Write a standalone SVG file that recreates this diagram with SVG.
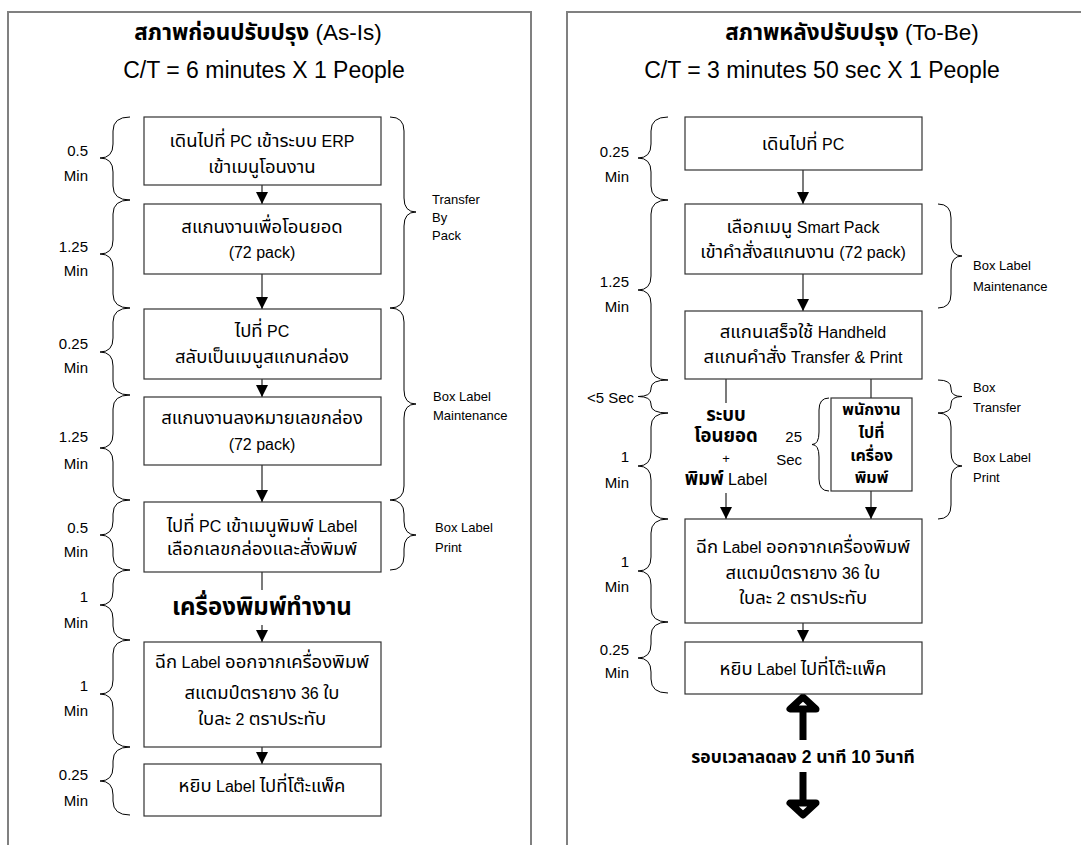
<svg xmlns="http://www.w3.org/2000/svg" width="1081" height="845" viewBox="0 0 1081 845">
<defs>
<marker id="ah" viewBox="0 0 12 12" refX="12" refY="6" markerWidth="12" markerHeight="12" markerUnits="userSpaceOnUse" orient="auto">
<path d="M0,0 L12,6 L0,12 z" fill="#000"/>
</marker>
<style>
text{font-family:"Liberation Sans","Noto Sans Thai","Noto Sans",sans-serif;fill:#000}
.frame{fill:none;stroke:#808080;stroke-width:2}
.box{fill:#fff;stroke:#333;stroke-width:1.2}
.bt{font-size:16px;text-anchor:middle}
.th{font-size:18.5px}
.ttl{font-size:22.5px;text-anchor:middle}
.sub{font-size:23px;text-anchor:middle}
.lbl{font-size:15px;text-anchor:end}
.side{font-size:13px}
.b{font-weight:bold}
.brace{fill:none;stroke:#000;stroke-width:1}
.flow{stroke:#222;stroke-width:1.2;fill:none}
.flow.h{marker-end:url(#ah)}
.big{stroke:#000;stroke-width:7;fill:#fff;stroke-linejoin:round}
</style>
</defs>
<rect width="1081" height="845" fill="#fff"/>

<!-- panel frames (bottom edges run off the page) -->
<g id="frames">
<path class="frame" d="M8,860 V12 H531 V860"/>
<path class="frame" d="M567,860 V12 H1090"/>
</g>

<!-- headings -->
<g id="head-asis">
<text class="ttl" x="258" y="40"><tspan class="b">สภาพก่อนปรับปรุง</tspan> (As-Is)</text>
<text class="sub" x="264" y="78">C/T = 6 minutes X 1 People</text>
</g>
<g id="head-tobe">
<text class="ttl" x="852" y="40"><tspan class="b">สภาพหลังปรับปรุง</tspan> (To-Be)</text>
<text class="sub" x="822" y="78">C/T = 3 minutes 50 sec X 1 People</text>
</g>

<!-- connectors -->
<g id="connectors">
<path class="flow h" d="M262,185 V204"/>
<path class="flow h" d="M262,274 V309"/>
<path class="flow h" d="M262,379 V397"/>
<path class="flow h" d="M262,465 V502"/>
<path class="flow" d="M262,572 V590"/>
<path class="flow h" d="M262,625 V642"/>
<path class="flow h" d="M262,747 V764"/>

<path class="flow h" d="M803,170 V204"/>
<path class="flow h" d="M803,274 V311"/>
<path class="flow" d="M726,379 V403"/>
<path class="flow h" d="M726,493 V519"/>
<path class="flow" d="M871,379 V398"/>
<path class="flow h" d="M871,491 V519"/>
<path class="flow h" d="M803,623 V642"/>

<!-- cycle-time reduction arrows -->
<path class="big" d="M803,712 V740"/>
<path class="big" d="M803,697 L790,709 L816,709 Z"/>
<path class="big" d="M803,772 V800"/>
<path class="big" d="M803,815 L790,803 L816,803 Z"/>
</g>

<!-- As-Is steps -->
<g id="asis-1"><rect class="box" x="144" y="117" width="237" height="68"/>
<text class="bt" x="262" y="147"><tspan class="th">เดินไปที่</tspan> PC <tspan class="th">เข้าระบบ</tspan> ERP</text>
<text class="bt th" x="262" y="173">เข้าเมนูโอนงาน</text></g>
<g id="asis-2"><rect class="box" x="144" y="204" width="237" height="70"/>
<text class="bt th" x="262" y="233">สแกนงานเพื่อโอนยอด</text>
<text class="bt" x="262" y="258">(72 pack)</text></g>
<g id="asis-3"><rect class="box" x="144" y="309" width="237" height="70"/>
<text class="bt" x="262" y="337"><tspan class="th">ไปที่</tspan> PC</text>
<text class="bt th" x="262" y="363">สลับเป็นเมนูสแกนกล่อง</text></g>
<g id="asis-4"><rect class="box" x="144" y="397" width="237" height="68"/>
<text class="bt th" x="262" y="424">สแกนงานลงหมายเลขกล่อง</text>
<text class="bt" x="262" y="450">(72 pack)</text></g>
<g id="asis-5"><rect class="box" x="144" y="502" width="237" height="70"/>
<text class="bt" x="262" y="532"><tspan class="th">ไปที่</tspan> PC <tspan class="th">เข้าเมนูพิมพ์</tspan> Label</text>
<text class="bt th" x="262" y="555">เลือกเลขกล่องและสั่งพิมพ์</text></g>
<g id="asis-printer"><text class="b" x="262" y="615" font-size="24" text-anchor="middle">เครื่องพิมพ์ทำงาน</text></g>
<g id="asis-6"><rect class="box" x="144" y="642" width="237" height="105"/>
<text class="bt" x="262" y="668"><tspan class="th">ฉีก</tspan> Label <tspan class="th">ออกจากเครื่องพิมพ์</tspan></text>
<text class="bt" x="262" y="699"><tspan class="th">สแตมป์ตรายาง</tspan> 36 <tspan class="th">ใบ</tspan></text>
<text class="bt" x="262" y="725"><tspan class="th">ใบละ</tspan> 2 <tspan class="th">ตราประทับ</tspan></text></g>
<g id="asis-7"><rect class="box" x="144" y="764" width="237" height="52"/>
<text class="bt" x="262" y="792"><tspan class="th">หยิบ</tspan> Label <tspan class="th">ไปที่โต๊ะแพ็ค</tspan></text></g>

<!-- As-Is time braces -->
<g id="asis-times">
<path class="brace" d="M130,117 Q113,117 113,131 L113,144 Q113,158 100,158 Q113,158 113,172 L113,186 Q113,200 130,200"/>
<text class="lbl" x="88" y="156">0.5</text><text class="lbl" x="88" y="181">Min</text>
<path class="brace" d="M130,200 Q113,200 113,214 L113,240 Q113,254 100,254 Q113,254 113,268 L113,294 Q113,308 130,308"/>
<text class="lbl" x="88" y="252">1.25</text><text class="lbl" x="88" y="276">Min</text>
<path class="brace" d="M130,308 Q113,308 113,322 L113,338 Q113,352 100,352 Q113,352 113,366 L113,381 Q113,395 130,395"/>
<text class="lbl" x="88" y="349">0.25</text><text class="lbl" x="88" y="373">Min</text>
<path class="brace" d="M130,395 Q113,395 113,409 L113,434 Q113,448 100,448 Q113,448 113,462 L113,486 Q113,500 130,500"/>
<text class="lbl" x="88" y="442">1.25</text><text class="lbl" x="88" y="469">Min</text>
<path class="brace" d="M130,500 Q113,500 113,514 L113,521 Q113,535 100,535 Q113,535 113,549 L113,556 Q113,570 130,570"/>
<text class="lbl" x="88" y="533">0.5</text><text class="lbl" x="88" y="557">Min</text>
<path class="brace" d="M130,570 Q113,570 113,584 L113,591 Q113,605 100,605 Q113,605 113,619 L113,626 Q113,640 130,640"/>
<text class="lbl" x="88" y="602">1</text><text class="lbl" x="88" y="628">Min</text>
<path class="brace" d="M130,640 Q113,640 113,654 L113,680 Q113,694 100,694 Q113,694 113,708 L113,733 Q113,747 130,747"/>
<text class="lbl" x="88" y="691">1</text><text class="lbl" x="88" y="716">Min</text>
<path class="brace" d="M130,747 Q113,747 113,761 L113,767 Q113,781 100,781 Q113,781 113,795 L113,801 Q113,815 130,815"/>
<text class="lbl" x="88" y="780">0.25</text><text class="lbl" x="88" y="806">Min</text>
</g>

<!-- As-Is transaction braces -->
<g id="asis-transactions">
<path class="brace" d="M390,117 Q404,117 404,131 L404,198 Q404,212 416,212 Q404,212 404,226 L404,294 Q404,308 390,308"/>
<text class="side" x="432" y="204">Transfer</text><text class="side" x="432" y="222">By</text><text class="side" x="432" y="240">Pack</text>
<path class="brace" d="M390,308 Q404,308 404,322 L404,390 Q404,404 416,404 Q404,404 404,418 L404,486 Q404,500 390,500"/>
<text class="side" x="433" y="401">Box Label</text><text class="side" x="433" y="420">Maintenance</text>
<path class="brace" d="M390,500 Q404,500 404,514 L404,521 Q404,535 416,535 Q404,535 404,549 L404,556 Q404,570 390,570"/>
<text class="side" x="435" y="532">Box Label</text><text class="side" x="435" y="552">Print</text>
</g>

<!-- To-Be steps -->
<g id="tobe-1"><rect class="box" x="685" y="117" width="237" height="53"/>
<text class="bt" x="803" y="150"><tspan class="th">เดินไปที่</tspan> PC</text></g>
<g id="tobe-2"><rect class="box" x="685" y="204" width="237" height="70"/>
<text class="bt" x="803" y="233"><tspan class="th">เลือกเมนู</tspan> Smart Pack</text>
<text class="bt" x="803" y="258"><tspan class="th">เข้าคำสั่งสแกนงาน</tspan> (72 pack)</text></g>
<g id="tobe-3"><rect class="box" x="685" y="311" width="237" height="68"/>
<text class="bt" x="803" y="338"><tspan class="th">สแกนเสร็จใช้</tspan> Handheld</text>
<text class="bt" x="803" y="363"><tspan class="th">สแกนคำสั่ง</tspan> Transfer &amp; Print</text></g>
<g id="tobe-system">
<text class="bt th b" x="726" y="421">ระบบ</text>
<text class="bt th b" x="726" y="442">โอนยอด</text>
<text x="726" y="463" font-size="13" text-anchor="middle">+</text>
<text class="bt" x="726" y="485"><tspan class="th b">พิมพ์</tspan> Label</text></g>
<g id="tobe-walk"><rect class="box" x="831" y="398" width="81" height="93"/>
<text class="bt b" x="871.5" y="415" font-size="17">พนักงาน</text>
<text class="bt b" x="871.5" y="438" font-size="17">ไปที่</text>
<text class="bt b" x="871.5" y="461" font-size="17">เครื่อง</text>
<text class="bt b" x="871.5" y="483" font-size="17">พิมพ์</text></g>
<g id="tobe-4"><rect class="box" x="685" y="519" width="237" height="104"/>
<text class="bt" x="803" y="553"><tspan class="th">ฉีก</tspan> Label <tspan class="th">ออกจากเครื่องพิมพ์</tspan></text>
<text class="bt" x="803" y="579"><tspan class="th">สแตมป์ตรายาง</tspan> 36 <tspan class="th">ใบ</tspan></text>
<text class="bt" x="803" y="604"><tspan class="th">ใบละ</tspan> 2 <tspan class="th">ตราประทับ</tspan></text></g>
<g id="tobe-5"><rect class="box" x="685" y="642" width="237" height="52"/>
<text class="bt" x="803" y="675"><tspan class="th">หยิบ</tspan> Label <tspan class="th">ไปที่โต๊ะแพ็ค</tspan></text></g>
<g id="tobe-saving"><text class="b" x="803" y="763" font-size="17.5" text-anchor="middle">รอบเวลาลดลง 2 นาที 10 วินาที</text></g>

<!-- To-Be time braces -->
<g id="tobe-times">
<path class="brace" d="M668,117 Q651,117 651,131 L651,144 Q651,158 638,158 Q651,158 651,172 L651,186 Q651,200 668,200"/>
<text class="lbl" x="629" y="157">0.25</text><text class="lbl" x="629" y="182">Min</text>
<path class="brace" d="M668,200 Q651,200 651,214 L651,276 Q651,290 638,290 Q651,290 651,304 L651,366 Q651,380 668,380"/>
<text class="lbl" x="629" y="287">1.25</text><text class="lbl" x="629" y="312">Min</text>
<path class="brace" d="M668,380 Q651,380 651,388 L651,389 Q651,396.5 638,396.5 Q651,396.5 651,404 L651,405 Q651,413 668,413"/>
<text class="lbl" x="634" y="403">&lt;5 Sec</text>
<path class="brace" d="M668,413 Q651,413 651,427 L651,452 Q651,466 638,466 Q651,466 651,480 L651,505 Q651,519 668,519"/>
<text class="lbl" x="629" y="462">1</text><text class="lbl" x="629" y="488">Min</text>
<path class="brace" d="M668,519 Q651,519 651,533 L651,557 Q651,571 638,571 Q651,571 651,585 L651,608 Q651,622 668,622"/>
<text class="lbl" x="629" y="567">1</text><text class="lbl" x="629" y="592">Min</text>
<path class="brace" d="M668,622 Q651,622 651,636 L651,644 Q651,658 638,658 Q651,658 651,672 L651,679 Q651,693 668,693"/>
<text class="lbl" x="629" y="655">0.25</text><text class="lbl" x="629" y="678">Min</text>
<path class="brace" d="M829,398 Q819,398 819,410 L819,432 Q819,444.5 812,444.5 Q819,444.5 819,457 L819,479 Q819,491 829,491"/>
<text class="lbl" x="802" y="442">25</text><text class="lbl" x="802" y="465">Sec</text>
</g>

<!-- To-Be transaction braces -->
<g id="tobe-transactions">
<path class="brace" d="M938,204 Q951,204 951,218 L951,242 Q951,256 962,256 Q951,256 951,270 L951,294 Q951,308 938,308"/>
<text class="side" x="973" y="270">Box Label</text><text class="side" x="973" y="291">Maintenance</text>
<path class="brace" d="M938,380 Q951,380 951,388 L951,389 Q951,396.5 962,396.5 Q951,396.5 951,404 L951,405 Q951,413 938,413"/>
<text class="side" x="973" y="392">Box</text><text class="side" x="973" y="412">Transfer</text>
<path class="brace" d="M938,413 Q951,413 951,427 L951,452 Q951,466 962,466 Q951,466 951,480 L951,505 Q951,519 938,519"/>
<text class="side" x="973" y="462">Box Label</text><text class="side" x="973" y="482">Print</text>
</g>
</svg>
